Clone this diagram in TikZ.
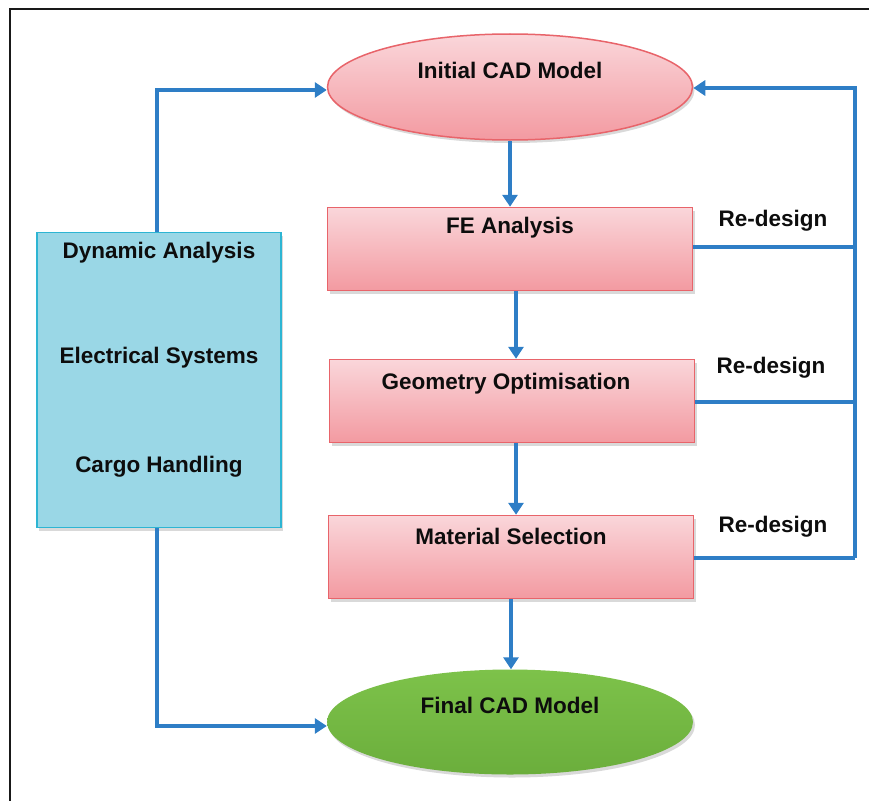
\documentclass[tikz,border=0pt]{standalone}
\usepackage{fontspec}
\setmainfont{Liberation Sans}
\usetikzlibrary{arrows.meta,shadows,shapes.geometric}

\definecolor{flowblue}{HTML}{2E7EC6}
\definecolor{pinktop}{HTML}{FAD6DA}
\definecolor{pinkbot}{HTML}{F39AA1}
\definecolor{pinkline}{HTML}{E8646A}
\definecolor{cyanfill}{HTML}{9AD7E6}
\definecolor{cyanline}{HTML}{2DB5D3}
\definecolor{greentop}{HTML}{7DC24A}
\definecolor{greenbot}{HTML}{6BAE3C}

\tikzset{
  lbl/.style={font=\fontsize{22.5}{26}\selectfont\bfseries, inner sep=0pt, text=black!95},
  softshadow/.style={drop shadow={opacity=0.25, shadow xshift=2pt, shadow yshift=-3pt, fill=black!60}},
  pinkbox/.style={rectangle, draw=pinkline, line width=1.5pt, top color=pinktop, bottom color=pinkbot,
    minimum width=365pt, minimum height=83pt, inner sep=0pt, softshadow},
  pinkoval/.style={ellipse, draw=pinkline, line width=1.5pt, top color=pinktop, bottom color=pinkbot,
    minimum width=365pt, minimum height=106pt, inner sep=0pt, softshadow},
  greenoval/.style={ellipse, draw=none, top color=greentop, bottom color=greenbot,
    minimum width=366pt, minimum height=105pt, inner sep=0pt, softshadow},
  cyanbox/.style={rectangle, draw=cyanline, line width=1.5pt, fill=cyanfill,
    minimum width=244pt, minimum height=295pt, inner sep=0pt, softshadow},
  flow/.style={draw=flowblue, line width=4.2pt, -{Triangle[length=12pt,width=15pt]}},
  feed/.style={draw=flowblue, line width=4.2pt},
}

\begin{document}
\begin{tikzpicture}[x=1pt,y=-1pt]
  \useasboundingbox (0,0) rectangle (869,800);
  % outer frame (only top and left edges lie inside the page)
  \draw[line width=2.8pt, black!90] (10,801) -- (10,9) -- (870,9);

  % main column
  \node[pinkoval] (init) at (510,87) {};
  \node[lbl] (initT) at (510,70) {Initial CAD Model};

  \node[pinkbox] (fe) at (510,249) {};
  \node[lbl] (feT) at (510,228) {FE Analysis};

  \node[pinkbox] (geo) at (512,401) {};
  \node[lbl] (geoT) at (506,384) {Geometry Optimisation};

  \node[pinkbox] (mat) at (511,557) {};
  \node[lbl] (matT) at (511,536) {Material Selection};

  \node[greenoval] (final) at (510,722) {};
  \node[lbl] (finalT) at (510,705) {Final CAD Model};

  % side box
  \node[cyanbox] (side) at (159,380) {};
  \node[lbl] (sideA) at (159,253) {Dynamic Analysis};
  \node[lbl] (sideB) at (159,358) {Electrical Systems};
  \node[lbl] (sideC) at (159,467) {Cargo Handling};

  % re-design labels
  \node[lbl] (rd1) at (773,221) {Re-design};
  \node[lbl] (rd2) at (771,368) {Re-design};
  \node[lbl] (rd3) at (773,527) {Re-design};

  % feedback junctions
  \coordinate (top) at (855,88);
  \coordinate (j1) at (855,247);
  \coordinate (j2) at (855,402);
  \coordinate (j3) at (855,558);
  \coordinate (lt) at (157,90);
  \coordinate (lb) at (157,726);

  % downward flow
  \draw[flow] (init.south -| 510,0) -- (fe.north -| 510,0);
  \draw[flow] (fe.south -| 516,0) -- (geo.north -| 516,0);
  \draw[flow] (geo.south -| 516,0) -- (mat.north -| 516,0);
  \draw[flow] (mat.south -| 511,0) -- (final.north -| 511,0);

  % side box links
  \draw[flow] (side.north -| lt) -- (lt) -- (init.west |- lt);
  \draw[flow] (side.south -| lb) -- (lb) -- (final.west |- lb);

  % re-design loop
  \draw[feed] (fe.east |- j1) -- (j1);
  \draw[feed] (geo.east |- j2) -- (j2);
  \draw[feed] (mat.east |- j3) -- (j3);
  \draw[flow] (j3) -- (top) -- (init.east |- top);
\end{tikzpicture}
\end{document}
